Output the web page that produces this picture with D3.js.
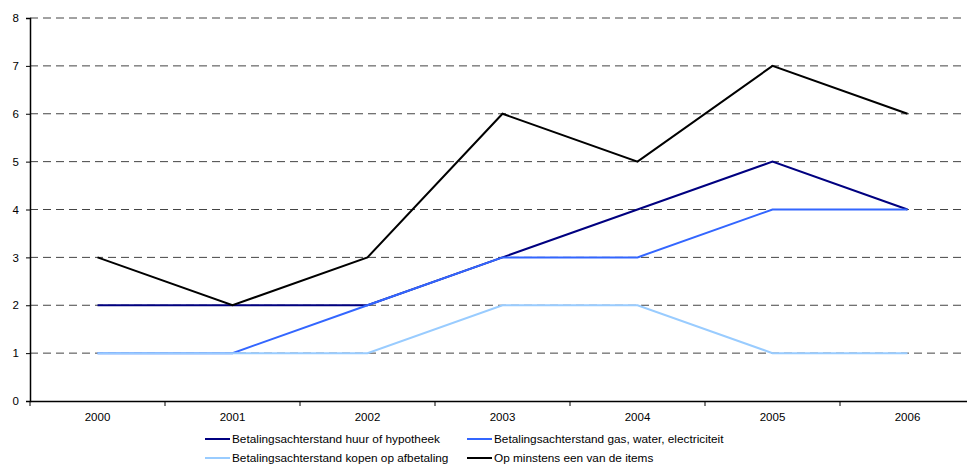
<!DOCTYPE html>
<html><head><meta charset="utf-8">
<script src="https://cdn.jsdelivr.net/npm/d3@7"></script>
<style>body{margin:0;background:#fff;} svg{display:block;font-family:"Liberation Sans",Arial,sans-serif;}</style>
</head><body>
<svg id="c" width="967" height="464"></svg>
<script>
const years = ["2000","2001","2002","2003","2004","2005","2006"];
const huur = [2,2,2,3,4,5,4];
const gas = [1,1,2,3,3,4,4];
const kopen = [1,1,1,2,2,1,1];
const items = [3,2,3,6,5,7,6];
const yTicks = [0,1,2,3,4,5,6,7,8];
const seriesNames = ["Betalingsachterstand huur of hypotheek","Betalingsachterstand gas, water, electriciteit","Betalingsachterstand kopen op afbetaling","Op minstens een van de items"];
const seriesColors = ["#000080","#3366FF","#99CCFF","#000000"];
const seriesData = [huur, gas, kopen, items];

const svg = d3.select("#c");
const mLeft = 30, mRight = 975, mTop = 18, mBottom = 401;
const x = d3.scaleBand().domain(years).range([mLeft, mRight]);
const y = d3.scaleLinear().domain([0,8]).range([mBottom, mTop]);

// gridlines
svg.append("g").selectAll("line").data(yTicks.filter(d=>d>0)).join("line")
  .attr("x1", mLeft).attr("x2", 962).attr("y1", d=>y(d)).attr("y2", d=>y(d))
  .attr("stroke", "#444").attr("stroke-width", 1).attr("stroke-dasharray", "8,5");

// y axis
const ya = svg.append("g").attr("transform", `translate(${mLeft},0)`)
  .call(d3.axisLeft(y).tickValues(yTicks).tickSize(4).tickPadding(7).tickFormat(d3.format("d")));
ya.select(".domain").attr("stroke","#000").attr("stroke-width",1.5);
ya.selectAll("text").attr("font-size",11.5).attr("fill","#000").attr("font-family","Liberation Sans, Arial");

// x axis
const xa = svg.append("g").attr("transform", `translate(0,${mBottom})`)
  .call(d3.axisBottom(x).tickSize(0).tickPadding(12));
xa.select(".domain").attr("stroke","#000").attr("stroke-width",1.5);
xa.selectAll("text").attr("font-size",11.5).attr("fill","#000").attr("font-family","Liberation Sans, Arial");
// boundary ticks
const bounds = years.map(d => x(d)).concat([mRight]);
svg.append("g").selectAll("line").data(bounds).join("line")
  .attr("x1", d=>d).attr("x2", d=>d).attr("y1", mBottom).attr("y2", mBottom+5)
  .attr("stroke","#000").attr("stroke-width",1);

// lines
const line = d3.line().x((d,i)=>x(years[i]) + x.bandwidth()/2).y(d=>y(d));
seriesData.forEach((s, k) => {
  svg.append("path").datum(s).attr("d", line).attr("fill","none")
    .attr("stroke", seriesColors[k]).attr("stroke-width", 2);
});

// legend
const legPos = [[205,439],[467,439],[205,458],[467,458]];
seriesNames.forEach((n,k) => {
  const [lx, ly] = legPos[k];
  svg.append("line").attr("x1", lx).attr("x2", lx+25).attr("y1", ly).attr("y2", ly)
    .attr("stroke", seriesColors[k]).attr("stroke-width", 2);
  svg.append("text").attr("x", lx+27).attr("y", ly+4).attr("font-size", 11.8).text(n);
});
</script>
</body></html>
